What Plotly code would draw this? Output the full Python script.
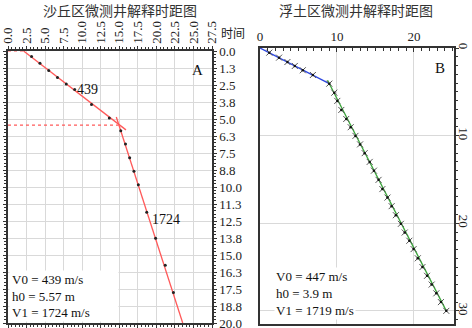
import plotly.graph_objects as go

# ---------- Panel A data (沙丘区) ----------
a_t = [3.18, 4.31, 5.49, 6.67, 7.85, 8.99, 11.26, 13.66, 15.2, 15.84, 16.4, 16.98, 17.57, 18.7, 19.9, 21.2, 22.3]
a_d = [0.41, 0.9, 1.43, 1.94, 2.42, 2.84, 3.93, 4.92, 5.87, 6.84, 7.85, 8.85, 9.84, 11.85, 13.76, 15.75, 17.75]
a_v0_t = [2.1, 15.9]
a_v0_d = [0.0, 5.8]
a_v1_t = [14.6, 23.55]
a_v1_d = [4.85, 20.0]
a_h0_t = [0.0, 14.9]
a_h0_d = [5.45, 5.45]
a_top_t = [0.0, 2.1]
a_top_d = [0.0, 0.0]
a_xticks = [0, 2.5, 5, 7.5, 10, 12.5, 15, 17.5, 20, 22.5, 25, 27.5]
a_xlabels = ["0.0", "2.5", "5.0", "7.5", "10.0", "12.5", "15.0", "17.5", "20.0", "22.5", "25.0", "27.5"]
a_yticks = [0, 1.25, 2.5, 3.75, 5, 6.25, 7.5, 8.75, 10, 11.25, 12.5, 13.75, 15, 16.25, 17.5, 18.75, 20]
a_ylabels = ["0.0", "1.3", "2.5", "3.8", "5.0", "6.3", "7.5", "8.8", "10.0", "11.3", "12.5", "13.8", "15.0", "16.3", "17.5", "18.8", "20.0"]

# ---------- Panel B data (浮土区) ----------
b1_t = [1.21, 2.48, 3.56, 4.52, 5.56, 6.87, 9.0]
b1_d = [0.53, 1.1, 1.6, 2.05, 2.54, 3.08, 4.07]
b2_t = [9.65, 10.04, 10.56, 11.2, 11.78, 12.4, 13.0, 13.6, 14.25, 14.8, 15.4, 15.9, 16.56, 17.1, 17.65,
        18.3, 18.8, 19.4, 19.95, 20.5, 21.1, 21.7, 22.3, 22.9, 23.5, 24.2]
b2_d = [5.1, 6.04, 7.07, 8.1, 9.04, 10.03, 11.0, 12.0, 13.0, 14.0, 15.05, 16.1, 17.07, 18.05, 19.08,
        20.07, 21.06, 22.0, 22.95, 24.0, 25.0, 26.0, 27.0, 28.0, 29.0, 30.0]
b_xticks = [0, 10, 20]
b_yticks = [0, 10, 20, 30]
b_v0_t = [0.0, 9.0]
b_v0_d = [0.0, 4.07]
b_v1_t = [8.77, 24.2]
b_v1_d = [3.68, 30.0]

SERIF = "Liberation Serif, Times New Roman, serif"
CJK = "Noto Sans CJK SC"
RED = "#ff5a5a"

fig = go.Figure()

# Panel A
fig.add_trace(go.Scatter(x=a_top_t, y=a_top_d, mode="lines", line=dict(color=RED, width=1.2, dash="dot"),
                         xaxis="x", yaxis="y", showlegend=False))
fig.add_trace(go.Scatter(x=a_h0_t, y=a_h0_d, mode="lines", line=dict(color=RED, width=1.2, dash="dot"),
                         xaxis="x", yaxis="y", showlegend=False))
fig.add_trace(go.Scatter(x=a_v0_t, y=a_v0_d, mode="lines", line=dict(color=RED, width=1.3),
                         xaxis="x", yaxis="y", showlegend=False))
fig.add_trace(go.Scatter(x=a_v1_t, y=a_v1_d, mode="lines", line=dict(color=RED, width=1.3),
                         xaxis="x", yaxis="y", showlegend=False))
fig.add_trace(go.Scatter(x=a_t, y=a_d, mode="markers", marker=dict(color="#222", size=3),
                         xaxis="x", yaxis="y", showlegend=False))

# Panel B
fig.add_trace(go.Scatter(x=b_v0_t, y=b_v0_d, mode="lines", line=dict(color="#2b45e0", width=1.3),
                         xaxis="x2", yaxis="y2", showlegend=False))
fig.add_trace(go.Scatter(x=b_v1_t, y=b_v1_d, mode="lines", line=dict(color="#3aa53a", width=1.3),
                         xaxis="x2", yaxis="y2", showlegend=False))
fig.add_trace(go.Scatter(x=b1_t + b2_t, y=b1_d + b2_d, mode="markers",
                         marker=dict(symbol="x-thin-open", color="#555", size=6, line=dict(width=1, color="#555")),
                         xaxis="x2", yaxis="y2", showlegend=False))
fig.add_trace(go.Scatter(x=b1_t + b2_t, y=b1_d + b2_d, mode="markers", marker=dict(color="#111", size=2.5),
                         xaxis="x2", yaxis="y2", showlegend=False))

tickfont = dict(family=SERIF, size=13, color="#222")
GRID = "#d9d9d9"
W, H = 472, 328

fig.update_layout(
    width=W, height=H,
    margin=dict(l=0, r=0, t=0, b=0),
    paper_bgcolor="white", plot_bgcolor="white",
    xaxis=dict(domain=[8 / W, 212 / W], range=[0, 27.5], side="top", anchor="y", automargin=False,
               tickvals=a_xticks, ticktext=a_xlabels, tickangle=-90, tickfont=tickfont,
               showgrid=True, gridcolor=GRID, gridwidth=1, zeroline=False,
               showline=True, linecolor="#333", linewidth=1.5, mirror="allticks",
               ticks="outside", ticklen=3, tickcolor="#333",
               minor=dict(dtick=0.5, ticks="outside", ticklen=2, tickcolor="#333", showgrid=False)),
    yaxis=dict(domain=[(H - 323) / H, (H - 51) / H], range=[20.0001, 0], side="right", anchor="x", automargin=False,
               tickvals=a_yticks, ticktext=a_ylabels, tickfont=tickfont, ticklabeloverflow="allow",
               showgrid=True, gridcolor=GRID, gridwidth=1, zeroline=False,
               showline=True, linecolor="#333", linewidth=1.5, mirror="allticks",
               ticks="outside", ticklen=3, tickcolor="#333",
               minor=dict(dtick=0.25, ticks="outside", ticklen=2, tickcolor="#333", showgrid=False)),
    xaxis2=dict(domain=[260 / W, 454 / W], range=[0, 25.2], side="top", anchor="y2", automargin=False,
                tickvals=b_xticks, tickfont=tickfont,
                showgrid=True, gridcolor=GRID, gridwidth=1, zeroline=False,
                showline=True, linecolor="#333", linewidth=1.5, mirror=True,
                ticks="inside", ticklen=4, tickcolor="#333",
                minor=dict(dtick=1, ticks="inside", ticklen=3, tickcolor="#333", showgrid=False)),
    yaxis2=dict(domain=[(H - 324) / H, (H - 48) / H], range=[31.5, 0], side="right", anchor="x2", automargin=False,
                tickvals=b_yticks, tickangle=90, tickfont=tickfont, ticklabelstandoff=-5,
                showgrid=True, gridcolor=GRID, gridwidth=1, zeroline=False,
                showline=True, linecolor="#333", linewidth=1.5, mirror=True,
                ticks="outside", ticklen=3, tickcolor="#333",
                minor=dict(dtick=1, ticks="outside", ticklen=2, tickcolor="#333", showgrid=False)),
)

ann = []
ann.append(dict(text="沙丘区微测井解释时距图", x=120 / W, y=1 - 10 / H, xref="paper", yref="paper",
                showarrow=False, font=dict(family=CJK, size=14, color="#333"), xanchor="center", yanchor="middle"))
ann.append(dict(text="浮土区微测井解释时距图", x=356 / W, y=1 - 10 / H, xref="paper", yref="paper",
                showarrow=False, font=dict(family=CJK, size=14, color="#333"), xanchor="center", yanchor="middle"))
ann.append(dict(text="时间", x=219 / W, y=1 - 33 / H, xref="paper", yref="paper",
                showarrow=False, font=dict(family=CJK, size=12, color="#222"), xanchor="left", yanchor="middle"))
ann.append(dict(text="A", x=25.5, y=1.4, xref="x", yref="y", showarrow=False,
                font=dict(family=SERIF, size=15, color="#111")))
ann.append(dict(text="B", x=23.4, y=2.3, xref="x2", yref="y2", showarrow=False,
                font=dict(family=SERIF, size=15, color="#111")))
ann.append(dict(text="439", x=9.0, y=2.84, xref="x", yref="y", showarrow=False, xanchor="left",
                font=dict(family=SERIF, size=14, color="#111")))
ann.append(dict(text="1724", x=19.1, y=12.4, xref="x", yref="y", showarrow=False, xanchor="left",
                font=dict(family=SERIF, size=14, color="#111")))
ann.append(dict(text="V0 = 439 m/s<br>h0 = 5.57 m<br>V1 = 1724 m/s", x=9 / W, y=(H - 322) / H,
                xref="paper", yref="paper", showarrow=False, xanchor="left", yanchor="bottom",
                align="left", valign="middle", bgcolor="white", width=104, height=46, borderpad=2,
                font=dict(family=SERIF, size=13, color="#111")))
ann.append(dict(text="V0 = 447 m/s<br>h0 = 3.9 m<br>V1 = 1719 m/s", x=274 / W, y=(H - 320) / H,
                xref="paper", yref="paper", showarrow=False, xanchor="left", yanchor="bottom",
                align="left", bgcolor="white", borderpad=1,
                font=dict(family=SERIF, size=13, color="#111")))
fig.update_layout(annotations=ann)

fig.write_html("out.html", config={"displayModeBar": False},
               post_script="document.body.style.margin='0';")
